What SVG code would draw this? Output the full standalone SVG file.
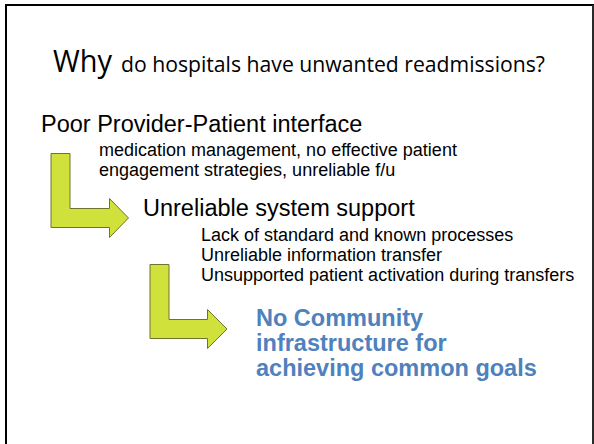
<svg xmlns="http://www.w3.org/2000/svg" width="594" height="444" viewBox="0 0 594 444">
<style>
.t{font-family:"Liberation Sans",Arial,sans-serif;fill:#000}
.h{font-size:23.5px}
.s{font-size:18px}
.ttl{font-family:"Open Sans","Noto Sans",sans-serif;fill:#000}
.b{font-family:"Liberation Sans",Arial,sans-serif;font-weight:bold;font-size:23.5px;fill:#4F81BD}
.arr{fill:#D0E13C;stroke:#6E7430;stroke-width:1}
</style>
<rect x="0" y="0" width="594" height="444" fill="#fff"/>
<path d="M6,450 V5 H593 V450" fill="none" stroke="#000" stroke-width="2"/>
<line x1="593" y1="5" x2="593" y2="450" stroke="#555" stroke-width="1"/>
<g id="title">
<text class="ttl" x="53" y="72" font-size="31" textLength="59" lengthAdjust="spacingAndGlyphs">Why</text>
<text class="ttl" x="121" y="72" font-size="22" textLength="424" lengthAdjust="spacingAndGlyphs">do hospitals have unwanted readmissions?</text>
</g>
<g id="node1">
<text class="t h" x="41" y="132">Poor Provider-Patient interface</text>
<text class="t s" x="99" y="156">medication management, no effective patient</text>
<text class="t s" x="99" y="176">engagement strategies, unreliable f/u</text>
</g>
<g id="node2">
<text class="t h" x="143" y="215.5">Unreliable system support</text>
<text class="t s" x="201" y="241">Lack of standard and known processes</text>
<text class="t s" x="201" y="261">Unreliable information transfer</text>
<text class="t s" x="201" y="281">Unsupported patient activation during transfers</text>
</g>
<g id="node3">
<text class="b" x="256" y="325.5">No Community</text>
<text class="b" x="256" y="350.5">infrastructure for</text>
<text class="b" x="256" y="375.5">achieving common goals</text>
</g>
<g id="connectors">
<path class="arr" d="M51,153.5 H70 V208.5 H109.5 V198.5 L128.5,218 L109.5,237.5 V227.5 H51 Z"/>
<path class="arr" d="M150,264.5 H169 V319.5 H207.5 V309.5 L227,329 L207.5,348.5 V338.5 H150 Z"/>
</g>
</svg>
